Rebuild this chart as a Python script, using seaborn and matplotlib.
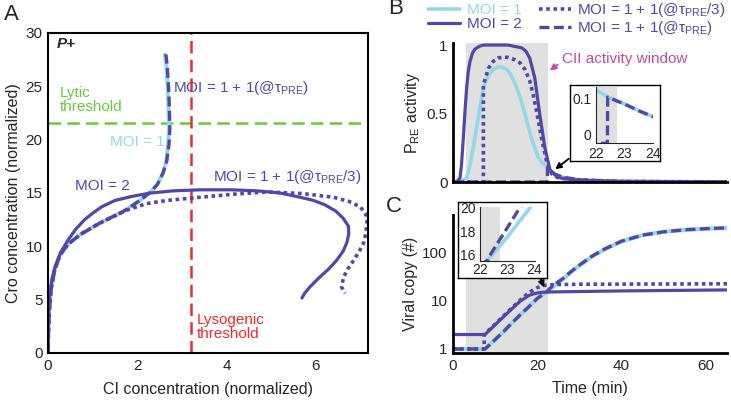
import numpy as np
import pandas as pd
import matplotlib
matplotlib.use("Agg")
import matplotlib.pyplot as plt
import seaborn as sns
from matplotlib.lines import Line2D
from matplotlib.ticker import FixedLocator, FixedFormatter, LogLocator, NullFormatter

# ---------------- data ----------------
# Panel A: phase-plane trajectories (CI, Cro)
a_moi1_ci = [0, 0.01, 0.03, 0.07, 0.15, 0.27, 0.45, 0.72, 1.17, 1.7, 2.06, 2.3, 2.45, 2.58, 2.65, 2.69, 2.71, 2.7, 2.68, 2.65, 2.62]
a_moi1_cro = [0, 2, 4, 6, 7.8, 9.2, 10.2, 11.1, 12.2, 13.3, 14.3, 15.1, 15.8, 16.9, 18, 19.5, 21, 23, 25, 27, 28]

a_moi2_ci = [0, 0.005, 0.015, 0.04, 0.09, 0.16, 0.28, 0.45, 0.62, 0.82, 1.0, 1.2, 1.5, 1.9, 2.3, 2.8, 3.4, 4.1, 4.7, 5.2,
             5.65, 5.95, 6.2, 6.45, 6.62, 6.73, 6.74, 6.7, 6.62, 6.47, 6.27, 6.06, 5.87, 5.75, 5.69]
a_moi2_cro = [0, 2, 4, 5.5, 7, 8.1, 9.4, 10.6, 11.6, 12.5, 13.1, 13.7, 14.3, 14.7, 15.0, 15.2, 15.3, 15.3, 15.2, 15.0,
              14.6, 14.3, 13.9, 13.3, 12.6, 11.9, 11.2, 10.4, 9.6, 8.7, 7.8, 7.0, 6.2, 5.6, 5.15]

a_pre3_ci = [0, 0.01, 0.03, 0.07, 0.15, 0.27, 0.45, 0.72, 1.17, 1.77, 2.2, 2.66, 3.4, 4.2, 4.9, 5.7, 6.4, 6.75, 7.0,
             7.12, 7.15, 7.12, 7.07, 6.97, 6.85, 6.72, 6.62, 6.58, 6.62, 6.66]
a_pre3_cro = [0, 2, 4, 6, 7.8, 9.2, 10.2, 11.1, 12.2, 13.4, 14.0, 14.3, 14.6, 14.9, 15.1, 14.95, 14.6, 14.2, 13.7,
              13.0, 12.2, 11.2, 10.3, 9.5, 8.7, 7.9, 7.1, 6.2, 5.8, 5.6]

a_pre_ci = [0, 0.01, 0.03, 0.07, 0.15, 0.27, 0.45, 0.72, 1.17, 1.7, 2.06, 2.3, 2.45, 2.58, 2.66, 2.71, 2.73, 2.72, 2.7, 2.67, 2.64]
a_pre_cro = [0, 2, 4, 6, 7.8, 9.2, 10.2, 11.1, 12.2, 13.3, 14.3, 15.1, 15.8, 16.9, 18, 19.5, 21, 23, 25, 27, 28]

lytic_threshold = 21.6
lysogenic_threshold = 3.2

# Panel B: PRE activity vs time
b_moi1_t = [0, 2, 3.24, 4, 4.8, 6.0, 7.2, 8.4, 9.5, 10.7, 12, 13.1, 14.1, 15.1, 16.1, 17.1, 18.6, 20.2, 21, 22, 22.5, 23, 23.5, 24, 26, 30, 40, 65]
b_moi1_v = [0, 0.005, 0.03, 0.12, 0.25, 0.47, 0.69, 0.78, 0.82, 0.84, 0.835, 0.81, 0.76, 0.69, 0.6, 0.49, 0.32, 0.18, 0.145, 0.118, 0.1, 0.087, 0.072, 0.059, 0.035, 0.015, 0.004, 0.001]

b_moi2_t = [0, 1, 1.66, 2.0, 2.45, 2.85, 3.24, 3.6, 4.03, 4.6, 5.2, 6.2, 7.2, 10, 13, 16.3, 17.3, 18.2, 19.4, 20.6, 21.8, 23, 24.6, 26, 30, 40, 65]
b_moi2_v = [0, 0.005, 0.03, 0.12, 0.32, 0.52, 0.69, 0.8, 0.88, 0.94, 0.97, 0.99, 1.0, 1.0, 1.0, 0.98, 0.955, 0.905, 0.76, 0.49, 0.25, 0.09, 0.04, 0.025, 0.012, 0.004, 0.001]

b_pre3_t = [0, 7.2, 7.21, 8.4, 9.5, 10.7, 12, 13.1, 14.5, 15.9, 17.1, 18.2, 19.0, 19.8, 21.0, 22.2, 23.4, 25, 30, 40, 65]
b_pre3_v = [0, 0, 0.71, 0.83, 0.88, 0.905, 0.912, 0.91, 0.895, 0.87, 0.82, 0.74, 0.64, 0.52, 0.32, 0.15, 0.06, 0.03, 0.015, 0.004, 0.001]

b_pre_t = [0, 22.4, 22.41, 23, 23.5, 24, 26, 30, 40, 65]
b_pre_v = [0, 0, 0.102, 0.087, 0.072, 0.059, 0.035, 0.015, 0.004, 0.001]

cii_window = [3.2, 22.65]

# Panel C: viral copy number vs time
c_moi1_t = [0, 7.6, 10, 12, 14, 16, 18, 20, 22, 22.3, 23, 24, 26, 28, 30, 33, 36, 40, 45, 50, 55, 60, 65]
c_moi1_v = [1, 1, 1.57, 2.3, 3.5, 5.2, 7.6, 11.3, 15, 15.6, 17.5, 20.5, 28, 40, 55, 85, 120, 175, 235, 275, 303, 320, 332]

c_moi2_t = [0, 7.6, 10, 12, 14, 16, 18, 19, 20, 21, 22, 25, 40, 65]
c_moi2_v = [2, 2, 3.2, 4.7, 6.9, 10, 13, 14, 14.7, 15.1, 15.3, 15.5, 16.2, 17]

c_pre3_t = [0, 7.4, 7.41, 10, 12, 14, 16, 18, 20, 21.5, 23, 30, 65]
c_pre3_v = [1, 1, 2, 3.3, 4.9, 7.2, 10.5, 15, 19, 21, 21.8, 22.3, 22.8]

c_pre_t = [0, 7.6, 10, 12, 14, 16, 18, 20, 22, 22.3, 22.35, 23, 24, 26, 28, 30, 33, 36, 40, 45, 50, 55, 60, 65]
c_pre_v = [1, 1, 1.57, 2.3, 3.5, 5.2, 7.6, 11.3, 15, 15.6, 15.9, 18.3, 22, 29, 41, 56, 86, 121, 176, 236, 276, 304, 321, 333]

# ---------------- style ----------------
sns.set_style("white")
plt.rcParams["font.family"] = ["Liberation Sans", "DejaVu Sans"]
plt.rcParams["mathtext.fontset"] = "custom"
plt.rcParams["mathtext.rm"] = "Liberation Sans"
plt.rcParams["mathtext.it"] = "Liberation Sans:italic"
plt.rcParams["mathtext.bf"] = "Liberation Sans:bold"
plt.rcParams["xtick.direction"] = "in"
plt.rcParams["ytick.direction"] = "in"

LB = "#93d8e8"
DP = "#5247a8"
GREEN = "#6cc83c"
RED = "#ee2b2b"
MAG = "#c04a9e"
GRAY = "#e0e0e0"
DOT = (0, (1, 1))
DASH = (0, (3, 1.3))
LW = 2.3
FS = 11

fig = plt.figure(figsize=(7.31, 4.0), dpi=100)

def line(ax, x, y, color, ls="-", lw=LW, z=2):
    sns.lineplot(x=x, y=y, ax=ax, sort=False, estimator=None, color=color,
                 linewidth=lw, linestyle=ls, zorder=z)

# ---------------- Panel A ----------------
axA = fig.add_axes([48/731, 1-353/400, 320/731, 320/400])
axA.axhline(lytic_threshold, color=GREEN, lw=1.8, ls=(0, (5, 2.5)), zorder=1)
axA.axvline(lysogenic_threshold, color=RED, lw=1.8, ls=(0, (5, 2.5)), zorder=1)
line(axA, a_moi1_ci, a_moi1_cro, LB, lw=2.8)
line(axA, a_moi2_ci, a_moi2_cro, DP)
line(axA, a_pre3_ci, a_pre3_cro, DP, ls=DOT, lw=2.6)
line(axA, a_pre_ci, a_pre_cro, DP, ls=DASH, lw=2.4)
axA.set_xlim(0, 7.17)
axA.set_ylim(0, 30)
axA.set_xticks([0, 2, 4, 6])
axA.set_yticks([0, 5, 10, 15, 20, 25, 30])
axA.tick_params(labelsize=FS, length=4, width=1.3, pad=4)
axA.set_xlabel("CI concentration (normalized)", fontsize=11.5, labelpad=7)
axA.set_ylabel("Cro concentration (normalized)", fontsize=11.5, labelpad=3)
for s in axA.spines.values():
    s.set_linewidth(1.5)
    s.set_color("black")
axA.text(0.2, 29.0, "P+", fontsize=FS, fontweight="bold", fontstyle="italic", va="center")
axA.text(0.27, 23.7, "Lytic\nthreshold", color=GREEN, fontsize=FS, va="center", linespacing=1.05)
axA.text(3.34, 2.45, "Lysogenic\nthreshold", color=RED, fontsize=FS, va="center", linespacing=1.05)
axA.text(2.8, 24.8, "MOI = 1 + 1(@τ$_{\\mathrm{PRE}}$)", color=DP, fontsize=FS, va="center")
axA.text(1.39, 19.8, "MOI = 1", color=LB, fontsize=FS, va="center")
axA.text(0.6, 15.65, "MOI = 2", color=DP, fontsize=FS, va="center")
axA.text(3.7, 16.5, "MOI = 1 + 1(@τ$_{\\mathrm{PRE}}$/3)", color=DP, fontsize=FS, va="center")

# ---------------- Panel B ----------------
axB = fig.add_axes([453/731, 1-182/400, 274/731, 139/400])
axB.axvspan(cii_window[0], cii_window[1], color=GRAY, lw=0, zorder=0)
line(axB, b_moi1_t, b_moi1_v, LB, lw=2.6)
line(axB, b_moi2_t, b_moi2_v, DP)
line(axB, b_pre3_t, b_pre3_v, DP, ls=DOT, lw=2.6)
line(axB, b_pre_t, b_pre_v, DP, ls=DASH, lw=2.4)
axB.set_xlim(0, 65)
axB.set_ylim(0, 1.015)
axB.set_xticks([0, 20, 40, 60])
axB.set_xticklabels([])
axB.set_yticks([0, 0.5, 1])
axB.set_yticklabels(["0", "0.5", "1"])
axB.tick_params(labelsize=FS, length=4, width=1.5, pad=4)
axB.set_xlabel("")
axB.set_ylabel("P$_{\\mathrm{RE}}$ activity", fontsize=11.5, labelpad=3)
sns.despine(ax=axB)
for s in ["left", "bottom"]:
    axB.spines[s].set_linewidth(2)
    axB.spines[s].set_color("black")

# ---------------- Panel C ----------------
axC = fig.add_axes([453/731, 1-353/400, 274/731, 138/400])
axC.axvspan(cii_window[0], cii_window[1], color=GRAY, lw=0, zorder=0)
line(axC, c_moi1_t, c_moi1_v, LB, lw=3.0)
line(axC, c_moi2_t, c_moi2_v, DP)
line(axC, c_pre3_t, c_pre3_v, DP, ls=DOT, lw=2.6)
line(axC, c_pre_t, c_pre_v, DP, ls=DASH, lw=2.4)
axC.set_yscale("log")
axC.set_xlim(0, 65)
axC.set_ylim(0.825, 618)
axC.set_xticks([0, 20, 40, 60])
axC.yaxis.set_major_locator(FixedLocator([1, 10, 100]))
axC.yaxis.set_major_formatter(FixedFormatter(["1", "10", "100"]))
axC.yaxis.set_minor_locator(LogLocator(base=10, subs=np.arange(2, 10)))
axC.yaxis.set_minor_formatter(NullFormatter())
axC.tick_params(labelsize=FS, length=4, width=1.5, pad=4)
axC.tick_params(which="minor", length=2.5, width=1.2)
axC.set_xlabel("Time (min)", fontsize=11.5, labelpad=6)
axC.set_ylabel("Viral copy (#)", fontsize=11.5, labelpad=3)
sns.despine(ax=axC)
for s in ["left", "bottom"]:
    axC.spines[s].set_linewidth(2)
    axC.spines[s].set_color("black")

# ---------------- Insets ----------------
def frame(rect):
    f = fig.add_axes(rect, zorder=5)
    f.set_xticks([]); f.set_yticks([])
    f.set_facecolor("white")
    for s in f.spines.values():
        s.set_linewidth(1.0); s.set_color("black"); s.set_visible(True)
    return f

frame([570/731, 1-161/400, 90/731, 76/400])
inB = fig.add_axes([596/731, 1-143.3/400, 57/731, 56/400], zorder=6)
inB.axvspan(22, 22.72, color=GRAY, lw=0, zorder=0)
line(inB, b_moi1_t, b_moi1_v, LB, lw=2.6)
line(inB, b_pre_t, b_pre_v, DP, ls=DASH, lw=2.4)
inB.set_xlim(22, 24)
inB.set_ylim(0, 0.124)
inB.set_xticks([22, 23, 24])
inB.set_yticks([0, 0.1])
inB.set_yticklabels(["0", "0.1"])
inB.tick_params(labelsize=10, length=3, width=1)
inB.tick_params(axis="y", pad=3.5)
inB.tick_params(axis="x", pad=3)
inB.get_yticklabels()[0].set_va("bottom")
inB.set_xlabel(""); inB.set_ylabel("")
inB.set_facecolor("white")
sns.despine(ax=inB)

frame([457.5/731, 1-277.5/400, 89/731, 76/400])
inC = fig.add_axes([480/731, 1-260.7/400, 55/731, 54/400], zorder=6)
inC.axvspan(22, 22.72, color=GRAY, lw=0, zorder=0)
line(inC, c_moi1_t, c_moi1_v, LB, lw=2.6)
line(inC, c_pre_t, c_pre_v, DP, ls=DASH, lw=2.4)
inC.set_xlim(22, 24.02)
inC.set_ylim(15.5, 20.1)
inC.set_xticks([22, 23, 24])
inC.set_yticks([16, 18, 20])
inC.tick_params(labelsize=10, length=3, width=1)
inC.tick_params(axis="y", pad=3)
inC.tick_params(axis="x", pad=2)
inC.set_xlabel(""); inC.set_ylabel("")
inC.set_facecolor("white")
sns.despine(ax=inC)

# ---------------- annotations ----------------
fig.text(561.7/731, 1-59/400, "CII activity window", color=MAG, fontsize=FS, va="center", ha="left")
fig.add_artist(matplotlib.patches.FancyArrowPatch((560/731, 1-63/400), (547.5/731, 1-72/400),
               transform=fig.transFigure, arrowstyle="-|>", mutation_scale=9, color=MAG, lw=1.3))
fig.add_artist(matplotlib.patches.FancyArrowPatch((571/731, 1-157/400), (553/731, 1-171/400),
               transform=fig.transFigure, arrowstyle="-|>", mutation_scale=9, color="black", lw=1.3))
fig.add_artist(matplotlib.patches.FancyArrowPatch((539/731, 1-275/400), (545/731, 1-290/400),
               transform=fig.transFigure, arrowstyle="-|>", mutation_scale=9, color="black", lw=1.3))

# legend
handles = [Line2D([], [], color=LB, lw=2.6),
           Line2D([], [], color=DP, lw=LW),
           Line2D([], [], color=DP, lw=2.6, ls=DOT),
           Line2D([], [], color=DP, lw=2.4, ls=DASH)]
labels = ["MOI = 1", "MOI = 2", "MOI = 1 + 1(@τ$_{\\mathrm{PRE}}$/3)", "MOI = 1 + 1(@τ$_{\\mathrm{PRE}}$)"]
fig.legend(handles, labels, ncol=2, loc="upper left", bbox_to_anchor=(428/731, 1.0 - 1/400),
           frameon=False, fontsize=FS, handlelength=2.1, handletextpad=0.45,
           columnspacing=1.1, labelspacing=0.0, borderpad=0, borderaxespad=0,
           labelcolor="linecolor")

# panel labels
fig.text(11.5/731, 1-15/400, "A", fontsize=16, ha="center", va="center")
fig.text(395.5/731, 1-9/400, "B", fontsize=16, ha="center", va="center")
fig.text(394/731, 1-207/400, "C", fontsize=16, ha="center", va="center")

fig.savefig("out.png", dpi=100)
